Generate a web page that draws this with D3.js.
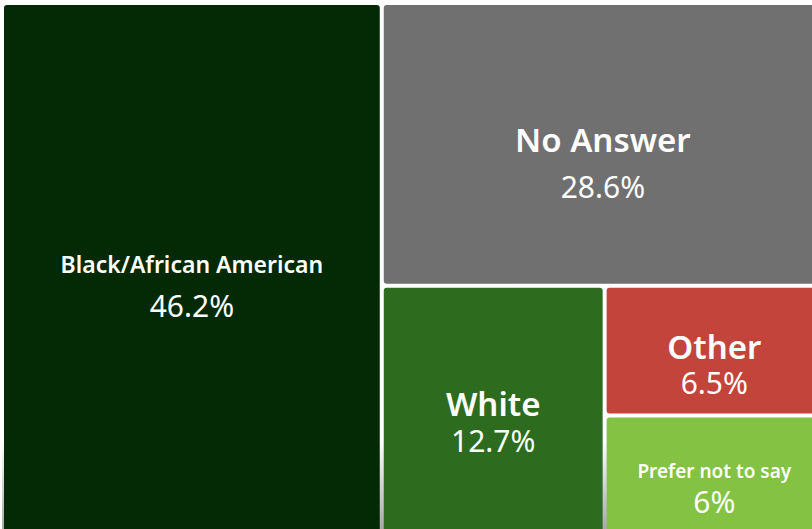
<!DOCTYPE html>
<html>
<head>
<meta charset="utf-8">
<script src="https://cdn.jsdelivr.net/npm/d3@7"></script>
<style>
  html, body { margin: 0; padding: 0; background: #fff; overflow: hidden; }
  svg { display: block; font-family: "Noto Sans", Lato, sans-serif; }
</style>
</head>
<body>
<svg id="chart" width="812" height="529"></svg>
<script>
// Survey breakdown by race/ethnicity (percent of respondents)
const categories = ["Black/African American", "No Answer", "White", "Other", "Prefer not to say"];
const shares = [46.2, 28.6, 12.7, 6.5, 6];
const shareLabels = ["46.2%", "28.6%", "12.7%", "6.5%", "6%"];
const tileColors = ["#032a04", "#707070", "#2d6b1f", "#c3443b", "#83c242"];

// Per-tile typography (name size, gap between the two lines, name offset from tile centre)
const nameSize = { "Black/African American": 23, "No Answer": 33, "White": 33, "Other": 33, "Prefer not to say": 19 };
const valueFontSize = 30;
const lineGap = { "Black/African American": 44, "No Answer": 46, "White": 36, "Other": 35, "Prefer not to say": 35 };
const nameShift = { "Black/African American": 4, "No Answer": 8, "White": 6, "Other": 8, "Prefer not to say": 3 };

const svg = d3.select("#chart");
const W = 812, H = 529;

// soft grey fade along the bottom of the board
const defs = svg.append("defs");
const fade = defs.append("linearGradient")
  .attr("id", "bottomFade").attr("x1", 0).attr("y1", 0).attr("x2", 0).attr("y2", 1);
fade.append("stop").attr("offset", "0%").attr("stop-color", "#ffffff");
fade.append("stop").attr("offset", "100%").attr("stop-color", "#a9a9a9");

svg.append("rect").attr("width", W).attr("height", H).attr("fill", "#fff");
svg.append("rect")
  .attr("x", 2).attr("y", 440).attr("width", W - 2).attr("height", H - 440)
  .attr("fill", "url(#bottomFade)");

const rows = categories.map((c, i) => ({ name: c, value: shares[i], label: shareLabels[i], color: tileColors[i] }));

const root = d3.hierarchy({ children: rows })
  .sum(d => d.value || 0)
  .sort((a, b) => b.value - a.value);

// the board is a little larger than the window, so its right and bottom edges run off-screen
d3.treemap()
  .tile(d3.treemapSquarify.ratio(1))
  .size([818, 528])
  .paddingInner(4)
  (root);

const g = svg.append("g").attr("transform", "translate(4,5)");

const cell = g.selectAll("g.tile")
  .data(root.leaves())
  .join("g")
  .attr("class", "tile")
  .attr("transform", d => `translate(${d.x0},${d.y0})`);

cell.append("rect")
  .attr("width", d => d.x1 - d.x0)
  .attr("height", d => d.y1 - d.y0)
  .attr("rx", 3).attr("ry", 3)
  .attr("fill", d => d.data.color);

cell.append("text")
  .attr("x", d => (d.x1 - d.x0) / 2)
  .attr("y", d => (d.y1 - d.y0) / 2 + nameShift[d.data.name])
  .attr("text-anchor", "middle")
  .attr("fill", "#fff")
  .attr("font-weight", 600)
  .attr("font-size", d => nameSize[d.data.name])
  .text(d => d.data.name);

cell.append("text")
  .attr("x", d => (d.x1 - d.x0) / 2)
  .attr("y", d => (d.y1 - d.y0) / 2 + nameShift[d.data.name] + lineGap[d.data.name])
  .attr("text-anchor", "middle")
  .attr("fill", "#fff")
  .attr("font-weight", 400)
  .attr("font-size", valueFontSize)
  .text(d => d.data.label);
</script>
</body>
</html>
